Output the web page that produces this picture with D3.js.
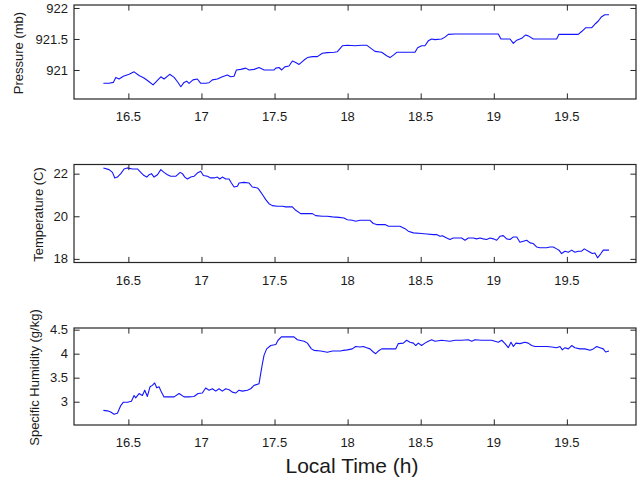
<!DOCTYPE html>
<html>
<head>
<meta charset="utf-8">
<script src="https://cdn.jsdelivr.net/npm/d3@7"></script>
<style>
  html, body { margin: 0; padding: 0; background: #fff; }
  svg { display: block; }
  text { font-family: "Liberation Sans", Arial, Helvetica, sans-serif; fill: #1a1a1a; }
</style>
</head>
<body>
<svg id="chart" width="643" height="483"></svg>
<script>
// Time axis (local time, hours)
const timeTicks = [16.5, 17, 17.5, 18, 18.5, 19, 19.5];
const timeLimits = [16.128, 19.973];

// Surface pressure (mb)
const pressureTime = [16.329,16.368,16.397,16.414,16.436,16.466,16.505,16.539,16.573,16.607,16.642,16.669,16.694,16.722,16.744,16.783,16.813,16.836,16.859,16.881,16.899,16.915,16.942,16.972,16.995,17.029,17.052,17.075,17.109,17.143,17.177,17.200,17.223,17.239,17.269,17.303,17.326,17.360,17.394,17.429,17.497,17.509,17.531,17.549,17.570,17.599,17.622,17.645,17.668,17.702,17.725,17.759,17.793,17.827,17.861,17.907,17.930,17.964,17.998,18.051,18.096,18.130,18.153,18.187,18.233,18.267,18.290,18.313,18.336,18.393,18.461,18.479,18.506,18.529,18.552,18.575,18.598,18.643,18.666,18.689,18.735,19.008,19.031,19.049,19.111,19.134,19.157,19.191,19.218,19.236,19.270,19.327,19.430,19.446,19.510,19.578,19.601,19.628,19.669,19.697,19.715,19.738,19.760,19.788];
const pressureMb = [920.785,920.785,920.80,920.88,920.855,920.90,920.93,920.97,920.91,920.87,920.81,920.76,920.82,920.89,920.855,920.93,920.88,920.81,920.73,920.80,920.82,920.785,920.84,920.855,920.785,920.785,920.795,920.84,920.855,920.89,920.92,920.89,920.90,921.00,921.01,921.03,921.00,921.01,921.04,921.00,921.00,921.03,921.04,921.00,921.05,921.065,921.145,921.12,921.09,921.16,921.20,921.215,921.215,921.27,921.28,921.285,921.295,921.39,921.40,921.39,921.40,921.40,921.36,921.30,921.285,921.23,921.20,921.24,921.285,921.285,921.285,921.36,921.39,921.39,921.47,921.50,921.49,921.50,921.53,921.575,921.58,921.58,921.58,921.50,921.50,921.43,921.48,921.51,921.565,921.55,921.50,921.50,921.50,921.575,921.575,921.575,921.62,921.68,921.68,921.75,921.79,921.86,921.89,921.89];
const pressureTicks = [921, 921.5, 922];
const pressureLimits = [920.532, 922.048];

// Air temperature (C)
const tempTime = [16.329,16.368,16.391,16.407,16.425,16.448,16.471,16.493,16.528,16.562,16.585,16.607,16.626,16.642,16.658,16.676,16.699,16.722,16.744,16.767,16.790,16.824,16.854,16.870,16.886,16.904,16.927,16.949,16.972,16.995,17.013,17.041,17.063,17.086,17.109,17.125,17.143,17.166,17.189,17.205,17.223,17.246,17.257,17.291,17.326,17.348,17.383,17.394,17.417,17.440,17.462,17.485,17.519,17.554,17.576,17.622,17.645,17.679,17.725,17.759,17.782,17.827,17.861,17.896,17.941,17.975,17.998,18.032,18.055,18.085,18.130,18.153,18.176,18.199,18.256,18.279,18.324,18.358,18.393,18.415,18.450,18.506,18.541,18.586,18.609,18.632,18.648,18.678,18.700,18.723,18.757,18.780,18.803,18.826,18.860,18.883,18.906,18.928,18.951,18.974,18.997,19.020,19.042,19.065,19.088,19.111,19.134,19.157,19.179,19.202,19.225,19.248,19.270,19.293,19.316,19.362,19.384,19.407,19.430,19.446,19.464,19.487,19.510,19.533,19.555,19.578,19.601,19.619,19.647,19.674,19.692,19.710,19.733,19.749,19.788];
const tempC = [22.27,22.19,22.06,21.80,21.84,22.00,22.22,22.27,22.22,22.22,22.06,21.91,21.84,21.95,22.00,21.84,21.95,22.19,22.06,21.95,21.875,21.875,22.06,22.00,21.84,21.75,21.84,21.875,22.03,22.11,21.91,21.875,21.80,21.80,21.84,21.75,21.84,21.75,21.75,21.56,21.375,21.41,21.56,21.59,21.56,21.375,21.33,21.25,21.02,20.78,20.59,20.50,20.47,20.47,20.44,20.44,20.28,20.125,20.125,20.125,20.03,20.00,20.00,19.97,19.95,19.92,19.84,19.81,19.77,19.81,19.81,19.81,19.66,19.61,19.61,19.53,19.53,19.53,19.42,19.30,19.22,19.19,19.17,19.14,19.14,19.06,19.09,18.98,18.91,18.98,18.98,18.98,18.875,18.98,18.98,18.94,18.98,18.94,18.91,18.98,18.94,18.875,19.06,19.09,18.94,18.91,19.03,19.03,18.78,18.83,18.875,18.75,18.72,18.56,18.52,18.52,18.56,18.56,18.47,18.41,18.25,18.36,18.31,18.41,18.31,18.36,18.36,18.47,18.36,18.25,18.28,18.05,18.25,18.41,18.41];
const tempTicks = [18, 20, 22];
const tempLimits = [17.83, 22.43];

// Specific humidity (g/kg)
const humidTime = [16.329,16.357,16.379,16.402,16.425,16.448,16.466,16.493,16.521,16.539,16.550,16.573,16.596,16.612,16.630,16.648,16.664,16.680,16.694,16.710,16.726,16.744,16.767,16.813,16.847,16.881,16.915,16.949,16.977,17.006,17.029,17.052,17.075,17.098,17.120,17.143,17.166,17.189,17.211,17.234,17.257,17.280,17.314,17.337,17.360,17.394,17.405,17.417,17.428,17.446,17.474,17.509,17.524,17.547,17.588,17.633,17.656,17.702,17.725,17.752,17.770,17.816,17.861,17.896,17.953,17.971,17.998,18.032,18.055,18.085,18.108,18.130,18.153,18.176,18.192,18.210,18.233,18.279,18.329,18.347,18.381,18.404,18.427,18.450,18.466,18.484,18.506,18.529,18.552,18.575,18.598,18.643,18.700,18.735,18.780,18.826,18.849,18.871,18.917,18.985,19.008,19.031,19.054,19.077,19.099,19.118,19.134,19.152,19.179,19.213,19.236,19.259,19.282,19.316,19.362,19.396,19.430,19.453,19.469,19.487,19.510,19.533,19.555,19.590,19.624,19.658,19.681,19.704,19.726,19.749,19.765,19.788];
const humidGkg = [2.82,2.81,2.785,2.74,2.76,2.92,2.99,2.99,3.01,3.13,3.08,3.17,3.13,3.24,3.11,3.31,3.34,3.39,3.29,3.31,3.20,3.10,3.10,3.10,3.17,3.10,3.10,3.11,3.17,3.18,3.285,3.24,3.27,3.22,3.27,3.22,3.27,3.25,3.20,3.18,3.24,3.22,3.24,3.27,3.34,3.375,3.58,3.79,3.965,4.10,4.17,4.19,4.28,4.35,4.35,4.35,4.29,4.26,4.22,4.10,4.07,4.055,4.03,4.055,4.055,4.07,4.08,4.10,4.15,4.14,4.15,4.125,4.10,4.035,4.00,4.055,4.10,4.10,4.10,4.21,4.22,4.28,4.24,4.22,4.17,4.22,4.17,4.22,4.26,4.29,4.26,4.28,4.26,4.28,4.28,4.29,4.26,4.29,4.28,4.28,4.26,4.24,4.28,4.21,4.125,4.24,4.15,4.22,4.21,4.24,4.22,4.17,4.15,4.15,4.15,4.14,4.125,4.15,4.08,4.125,4.10,4.17,4.125,4.10,4.10,4.07,4.10,4.15,4.125,4.10,4.035,4.055];
const humidTicks = [3, 3.5, 4, 4.5];
const humidLimits = [2.515, 4.535];

const svg = d3.select("#chart");
const left = 74, right = 636;
const tickLen = 5.6;
const axisColor = "#262626";
const lineColor = "#1414ff";

const x = d3.scaleLinear().domain(timeLimits).range([left, right]);

const panels = [
  { top: 5,     bottom: 99,    time: pressureTime, values: pressureMb, ticks: pressureTicks, limits: pressureLimits,
    label: "Pressure (mb)", labelX: 22.5, fmt: d => d3.format("")(d) },
  { top: 164.5, bottom: 262.5, time: tempTime,     values: tempC,      ticks: tempTicks,     limits: tempLimits,
    label: "Temperature (C)", labelX: 42.5, fmt: d => d3.format("")(d) },
  { top: 328,   bottom: 425,   time: humidTime,    values: humidGkg,   ticks: humidTicks,    limits: humidLimits,
    label: "Specific Humidity (g/kg)", labelX: 38.5, fmt: d => d3.format("")(d) }
];

panels.forEach(p => {
  const y = d3.scaleLinear().domain(p.limits).range([p.bottom, p.top]);
  const g = svg.append("g");

  // data trace
  const pts = p.time.map((t, i) => [t, p.values[i]]);
  g.append("path")
    .datum(pts)
    .attr("fill", "none")
    .attr("stroke", lineColor)
    .attr("stroke-width", 1.1)
    .attr("stroke-linejoin", "round")
    .attr("d", d3.line().x(d => x(d[0])).y(d => y(d[1])));

  // inward ticks on all four sides (box style)
  const bottomAxis = d3.axisBottom(x).tickValues(timeTicks).tickSizeInner(-tickLen).tickSizeOuter(0).tickFormat("");
  const topAxis = d3.axisTop(x).tickValues(timeTicks).tickSizeInner(-tickLen).tickSizeOuter(0).tickFormat("");
  const leftAxis = d3.axisLeft(y).tickValues(p.ticks).tickSizeInner(-tickLen).tickSizeOuter(0).tickFormat("");
  const rightAxis = d3.axisRight(y).tickValues(p.ticks).tickSizeInner(-tickLen).tickSizeOuter(0).tickFormat("");

  [[bottomAxis, `translate(0,${p.bottom})`], [topAxis, `translate(0,${p.top})`],
   [leftAxis, `translate(${left},0)`], [rightAxis, `translate(${right},0)`]].forEach(([ax, tr]) => {
    const a = g.append("g").attr("transform", tr).call(ax);
    a.select(".domain").remove();
    a.selectAll(".tick line").attr("stroke", axisColor).attr("stroke-width", 1);
  });

  // box
  g.append("rect")
    .attr("x", left).attr("y", p.top)
    .attr("width", right - left).attr("height", p.bottom - p.top)
    .attr("fill", "none").attr("stroke", axisColor).attr("stroke-width", 1.2);

  // x tick labels
  g.selectAll(".xl").data(timeTicks).enter().append("text")
    .attr("x", d => x(d)).attr("y", p.bottom + 22)
    .attr("text-anchor", "middle").attr("font-size", 13)
    .text(d => d3.format("")(d));

  // y tick labels
  g.selectAll(".yl").data(p.ticks).enter().append("text")
    .attr("x", left - 6).attr("y", d => y(d) + 4.6)
    .attr("text-anchor", "end").attr("font-size", 13)
    .text(p.fmt);

  // y axis title
  const cy = (p.top + p.bottom) / 2 + 1;
  g.append("text")
    .attr("transform", `translate(${p.labelX},${cy}) rotate(-90)`)
    .attr("text-anchor", "middle").attr("font-size", 13)
    .text(p.label);
});

svg.append("text")
  .attr("x", 352).attr("y", 473)
  .attr("text-anchor", "middle").attr("font-size", 21)
  .text("Local Time (h)");
</script>
</body>
</html>
